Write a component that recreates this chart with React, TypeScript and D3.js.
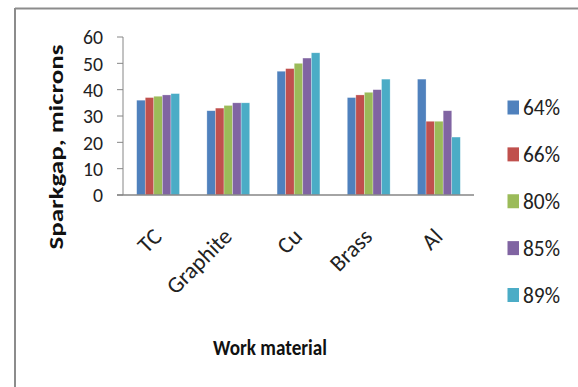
import React from "react";
import * as d3 from "d3";

const materials = ["TC", "Graphite", "Cu", "Brass", "Al"];
const seriesNames = ["64%", "66%", "80%", "85%", "89%"];
const s64 = [36, 32, 47, 37, 44];
const s66 = [37, 33, 48, 38, 28];
const s80 = [37.5, 34, 50, 39, 28];
const s85 = [38, 35, 52, 40, 32];
const s89 = [38.5, 35, 54, 44, 22];
const yTicks = [0, 10, 20, 30, 40, 50, 60];
const colors = ["#4F81BD", "#C0504D", "#9BBB59", "#8064A2", "#4BACC6"];

const seriesValues = [s64, s66, s80, s85, s89];

const W = 578;
const H = 387;
const plot = { left: 123, right: 474, top: 37, bottom: 195 };
const FONT = "Carlito, Lato, 'Open Sans', sans-serif";

export default function App() {
  const x = d3
    .scaleBand<string>()
    .domain(materials)
    .range([plot.left, plot.right])
    .paddingInner(0.39)
    .paddingOuter(0.195);
  const xs = d3
    .scaleBand<string>()
    .domain(seriesNames)
    .range([0, x.bandwidth()]);
  const y = d3.scaleLinear().domain([0, 60]).range([plot.bottom, plot.top]);

  const legendY = d3
    .scalePoint<string>()
    .domain(seriesNames)
    .range([107.5, 295]);

  return (
    <svg
      width={W}
      height={H}
      style={{ position: "absolute", left: 0, top: 0, background: "#fff" }}
      fontFamily={FONT}
    >
      {/* frame */}
      <line x1={15} x2={15} y1={8} y2={H} stroke="#8c8c8c" strokeWidth={2} />
      <line x1={15} x2={W} y1={8.5} y2={8.5} stroke="#8c8c8c" strokeWidth={2} />

      {/* bars */}
      {materials.map((m, i) => (
        <g key={m} transform={`translate(${x(m)},0)`}>
          {seriesNames.map((s, j) => {
            const v = seriesValues[j][i];
            return (
              <rect
                key={s}
                x={xs(s)}
                y={y(v)}
                width={xs.bandwidth()}
                height={y(0) - y(v)}
                fill={colors[j]}
                stroke="#ffffff"
                strokeOpacity={0.45}
                strokeWidth={0.6}
              />
            );
          })}
        </g>
      ))}

      {/* y axis */}
      <line
        x1={plot.left}
        x2={plot.left}
        y1={plot.top}
        y2={plot.bottom}
        stroke="#868686"
        strokeWidth={1}
      />
      {yTicks.map((t) => (
        <g key={t}>
          <line
            x1={plot.left - 6}
            x2={plot.left}
            y1={y(t)}
            y2={y(t)}
            stroke="#868686"
          />
          <text
            x={plot.left - 20}
            y={y(t)}
            dy="0.36em"
            textAnchor="end"
            fontSize={20}
            fill="#222"
            textLength={String(t).length * 10}
            lengthAdjust="spacingAndGlyphs"
          >
            {t}
          </text>
        </g>
      ))}

      {/* x axis */}
      <line
        x1={plot.left - 6}
        x2={plot.right}
        y1={plot.bottom}
        y2={plot.bottom}
        stroke="#868686"
        strokeWidth={1.5}
      />
      {materials.map((m) => {
        const cx = (x(m) as number) + x.bandwidth() / 2 + 5;
        const cy = 238;
        return (
          <text
            key={m}
            x={cx}
            y={cy}
            textAnchor="end"
            fontSize={23}
            fill="#222"
            transform={`rotate(-45 ${cx} ${cy})`}
          >
            {m}
          </text>
        );
      })}

      {/* axis titles */}
      <text
        x={270}
        y={355}
        textAnchor="middle"
        fontSize={22}
        fontWeight="bold"
        fill="#111"
        textLength={114}
        lengthAdjust="spacingAndGlyphs"
      >
        Work material
      </text>
      <text
        transform={`translate(63,147) rotate(-90)`}
        textAnchor="middle"
        fontSize={21}
        fontWeight="bold"
        fill="#111"
        textLength={205}
        lengthAdjust="spacingAndGlyphs"
      >
        Sparkgap, microns
      </text>

      {/* legend */}
      {seriesNames.map((s, j) => {
        const ly = legendY(s) as number;
        return (
          <g key={s}>
            <rect x={507.5} y={ly - 7} width={11.5} height={14} fill={colors[j]} />
            <text
              x={523}
              y={ly + 7.5}
              fontSize={22}
              fill="#222"
              textLength={37}
              lengthAdjust="spacingAndGlyphs"
            >
              {s}
            </text>
          </g>
        );
      })}
    </svg>
  );
}
